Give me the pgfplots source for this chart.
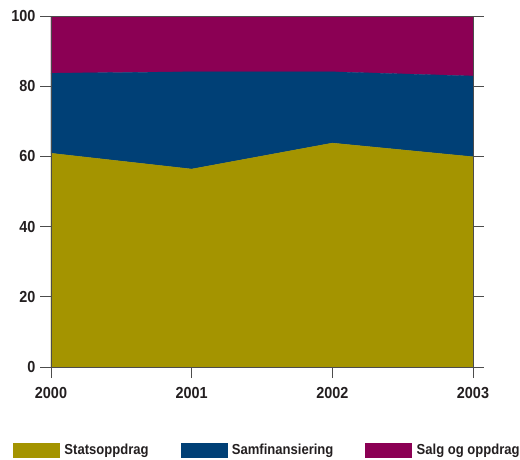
\documentclass[border=0pt]{standalone}
\usepackage{fontspec}
\setmainfont{Liberation Sans}[FakeStretch=0.9]
\usepackage{pgfplots}
\pgfplotsset{compat=1.18}
\definecolor{stat}{RGB}{164,148,0}
\definecolor{samf}{RGB}{0,64,118}
\definecolor{salg}{RGB}{139,0,84}
\definecolor{txt}{RGB}{35,31,32}
\begin{document}
\begin{tikzpicture}
\useasboundingbox (0,0) rectangle (520pt,459pt);
\begin{axis}[
    at={(51pt,92pt)}, anchor=south west,
    scale only axis, width=422pt, height=351pt,
    xmin=2000, xmax=2003, ymin=0, ymax=100,
    xtick={2000,2001,2002,2003},
    ytick={0,20,40,60,80,100},
    x tick label style={/pgf/number format/1000 sep={}},
    /pgf/number format/assume math mode=true,
    ticklabel style={font=\fontsize{16}{16}\selectfont\bfseries, text=txt},
    xtick pos=bottom, ytick pos=both,
    tick align=outside, major tick length=11pt,
    tick style={gray!60!black, line width=0.8pt},
    axis line style={gray!60!black, line width=0.8pt},
    xticklabel style={yshift=-6pt},
    yticklabel style={xshift=-1pt},
    stack plots=y,
    axis on top,
    legend columns=3,
    legend style={at={(0,0)}, anchor=north west, xshift=-38pt, yshift=-75pt,
        draw=none, fill=none, inner sep=0pt,
        font=\fontsize{14.5}{14.5}\selectfont\bfseries, text=txt,
        /tikz/every odd column/.append style={column sep=3pt},
        /tikz/every even column/.append style={column sep=30pt}},
    legend image code/.code={\fill[#1] (0pt,-7pt) rectangle (46pt,7pt);},
    legend cell align=left,
]
\addplot[draw=stat, line width=0.3pt, fill=stat] coordinates {(2000,60.9) (2001,56.4) (2002,63.8) (2003,59.9)} \closedcycle;
\addplot[draw=samf, line width=0.3pt, fill=samf] coordinates {(2000,22.8) (2001,27.7) (2002,20.3) (2003,23.0)} \closedcycle;
\addplot[draw=salg, line width=0.3pt, fill=salg] coordinates {(2000,16.3) (2001,15.9) (2002,15.9) (2003,17.1)} \closedcycle;
\legend{Statsoppdrag, Samfinansiering, Salg og oppdrag}
\end{axis}
\end{tikzpicture}
\end{document}
